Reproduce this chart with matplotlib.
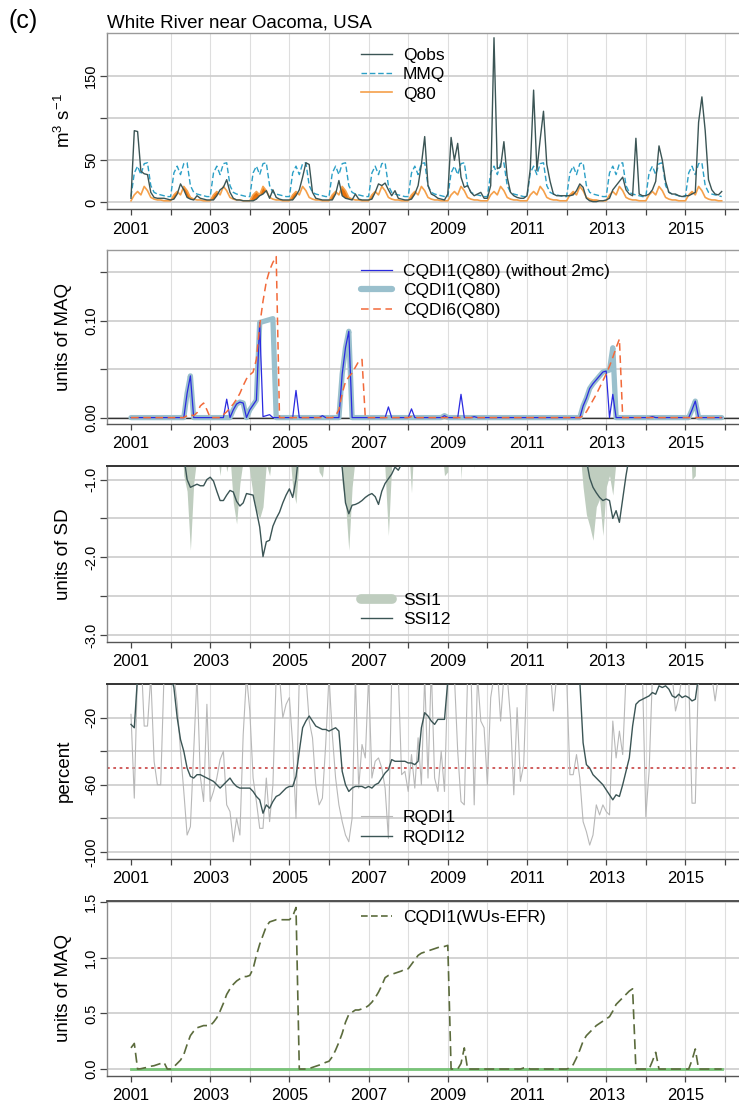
import numpy as np
import matplotlib
matplotlib.use("Agg")
import matplotlib.pyplot as plt
from matplotlib.lines import Line2D
from matplotlib.ticker import FixedLocator, FixedFormatter

plt.rcParams['font.family'] = ['Liberation Sans', 'DejaVu Sans']
plt.rcParams['mathtext.fontset'] = 'custom'
plt.rcParams['mathtext.rm'] = 'Liberation Sans'
plt.rcParams['mathtext.default'] = 'regular'

# monthly series, Jan 2001 .. Dec 2015 (one row per year)
qobs = [
    5, 85, 84, 37, 34, 33, 12, 6, 5, 5, 5, 4,
    3, 4, 10, 22, 15, 6, 4, 3, 8, 5, 4, 3,
    3, 3, 8, 15, 18, 27, 12, 5, 3, 3, 2, 2,
    2, 2, 4, 8, 10, 14, 5, 15, 6, 4, 3, 3,
    3, 3, 8, 15, 30, 47, 45, 12, 5, 4, 3, 3,
    3, 3, 10, 26, 8, 5, 4, 3, 10, 4, 3, 3,
    3, 4, 12, 22, 20, 23, 15, 8, 14, 5, 4, 3,
    3, 4, 10, 20, 45, 78, 20, 10, 8, 5, 4, 3,
    10, 77, 50, 70, 30, 18, 20, 12, 8, 10, 12, 5,
    5, 20, 195, 40, 42, 72, 30, 12, 8, 6, 5, 5,
    8, 40, 133, 38, 75, 108, 45, 25, 10, 8, 8, 8,
    8, 8, 9, 14, 22, 18, 5, 2, 1, 1, 2, 2,
    3, 5, 15, 20, 25, 30, 15, 10, 8, 76, 10, 8,
    8, 10, 15, 25, 67, 50, 25, 12, 10, 10, 8, 7,
    8, 8, 10, 12, 95, 125, 85, 27, 15, 10, 9, 13,
]
# climatological monthly values (Jan..Dec), same every year
mmq_month = [7, 35, 43, 33, 46, 47, 20, 12, 10, 9, 8, 7]
q80_month = [2, 9, 13, 9, 19, 14, 6, 4, 3, 3, 2, 2]

cqdi1 = [
    0, 0, 0, 0, 0, 0, 0, 0, 0, 0, 0, 0,
    0, 0, 0, 0, 0, 0.025, 0.043, 0, 0, 0, 0, 0,
    0, 0, 0, 0, 0, 0, 0, 0.008, 0.014, 0.016, 0.015, 0,
    0.008, 0.013, 0.018, 0.098, 0.099, 0.100, 0.101, 0.102, 0, 0, 0, 0,
    0, 0, 0, 0, 0, 0, 0, 0, 0, 0, 0, 0,
    0, 0, 0, 0, 0.045, 0.072, 0.089, 0, 0, 0, 0, 0,
    0, 0, 0, 0, 0, 0, 0, 0, 0, 0, 0, 0,
    0, 0, 0, 0, 0, 0, 0, 0, 0, 0, 0, 0.002,
    0, 0, 0, 0, 0, 0, 0, 0, 0, 0, 0, 0,
    0, 0, 0, 0, 0, 0, 0, 0, 0, 0, 0, 0,
    0, 0, 0, 0, 0, 0, 0, 0, 0, 0, 0, 0,
    0, 0, 0, 0, 0, 0.012, 0.020, 0.030, 0.035, 0.039, 0.043, 0.047,
    0.048, 0.049, 0.072, 0, 0, 0, 0, 0, 0, 0, 0, 0,
    0, 0, 0, 0, 0, 0, 0, 0, 0, 0, 0, 0,
    0, 0, 0.008, 0.017, 0, 0, 0, 0, 0, 0, 0, 0,
]
cqdi1_no2mc = [
    0, 0, 0, 0, 0, 0, 0, 0, 0, 0, 0, 0,
    0, 0, 0, 0, 0, 0.025, 0.043, 0, 0, 0, 0, 0,
    0, 0, 0, 0, 0, 0.019, 0, 0.008, 0.014, 0.016, 0.015, 0,
    0.008, 0.013, 0.018, 0.098, 0.001, 0.002, 0.003, 0, 0, 0, 0, 0,
    0, 0, 0.028, 0, 0, 0, 0, 0, 0, 0, 0.002, 0,
    0, 0, 0, 0, 0.045, 0.072, 0.089, 0, 0, 0, 0, 0,
    0, 0, 0, 0, 0, 0, 0.011, 0, 0, 0, 0, 0,
    0, 0.009, 0, 0, 0, 0, 0, 0, 0, 0, 0, 0.002,
    0, 0, 0, 0, 0.024, 0, 0, 0, 0.001, 0, 0, 0,
    0, 0, 0, 0, 0, 0, 0, 0, 0, 0, 0, 0,
    0, 0, 0, 0, 0, 0, 0, 0, 0, 0, 0, 0,
    0, 0, 0, 0, 0, 0.012, 0.020, 0.030, 0.035, 0.039, 0.043, 0.047,
    0.048, 0, 0.024, 0, 0, 0, 0, 0, 0, 0, 0, 0,
    0, 0, 0.001, 0, 0, 0, 0, 0, 0, 0, 0, 0,
    0, 0, 0.008, 0.017, 0, 0, 0, 0, 0, 0, 0, 0,
]
cqdi6 = [
    0, 0, 0, 0, 0, 0, 0, 0, 0, 0, 0, 0,
    0, 0, 0, 0, 0, 0.002, 0.003, 0.002, 0.005, 0.012, 0.015, 0.008,
    0, 0, 0, 0, 0.003, 0.006, 0.010, 0.014, 0.019, 0.025, 0.033, 0.040,
    0.044, 0.047, 0.060, 0.095, 0.120, 0.140, 0.152, 0.160, 0.166, 0, 0, 0,
    0, 0, 0, 0, 0, 0, 0, 0, 0, 0, 0, 0,
    0, 0, 0.002, 0.008, 0.025, 0.037, 0.042, 0.046, 0.052, 0.058, 0.060, 0,
    0, 0, 0, 0, 0, 0, 0, 0, 0, 0, 0, 0,
    0, 0.001, 0, 0, 0, 0, 0, 0, 0, 0, 0, 0,
    0, 0, 0, 0, 0, 0, 0, 0, 0, 0, 0, 0,
    0, 0, 0, 0, 0, 0, 0, 0, 0, 0, 0, 0,
    0, 0, 0, 0, 0, 0, 0, 0, 0, 0, 0, 0,
    0, 0, 0, 0, 0, 0.002, 0.006, 0.012, 0.018, 0.024, 0.031, 0.038,
    0.045, 0.053, 0.062, 0.072, 0.081, 0, 0, 0, 0, 0, 0, 0,
    0, 0, 0, 0, 0, 0, 0, 0, 0, 0, 0, 0,
    0, 0, 0, 0, 0, 0, 0, 0, 0, 0, 0, 0,
]
ssi1 = [
    -0.2, 1.5, 1.5, 0.8, 0.7, 0.6, 0.2, -0.1, 0.0, 0.0, 0.1, 0.0,
    -0.3, -0.2, -0.4, -0.2, -0.95, -1.15, -1.91, -1.05, -0.7, -0.3, -0.3, -0.4,
    -0.5, -0.6, -0.6, -0.95, -0.5, -0.9, -0.7, -1.3, -1.57, -1.05, -0.75, -0.6,
    -0.9, -1.2, -1.4, -1.5, -1.35, -0.8, -0.95, -0.6, -0.4, -0.5, -0.5, -0.5,
    -0.6, -1.1, -1.31, -0.7, 0.1, 0.5, 0.4, 0.0, -0.3, -0.9, -0.97, -0.6,
    -0.5, -0.6, -0.3, 0.1, -1.05, -1.3, -1.91, -1.1, -0.7, -0.4, -0.5, -0.5,
    -0.4, -0.3, -0.1, 0.1, 0.0, -0.9, -1.72, -0.8, 0.0, -0.2, -0.3, -0.4,
    -0.5, -1.17, -0.3, 0.2, 0.6, 0.9, 0.2, -0.1, -0.2, -0.3, -0.5, -0.95,
    -0.9, 1.2, 0.8, 0.9, -1.0, -0.2, 0.1, 0.0, -0.87, -0.2, 0.3, -0.2,
    0.0, 0.5, 2.0, 0.8, 0.3, 0.9, 0.8, 0.4, 0.2, 0.0, 0.0, -0.1,
    0.6, 1.0, 1.8, 0.6, 1.1, 1.4, 1.2, 1.2, 0.6, 0.2, 0.3, 0.5,
    0.4, -0.5, -0.6, -0.3, -0.6, -1.1, -1.45, -1.6, -1.78, -1.35, -1.25, -1.72,
    -1.1, -0.95, -1.2, -0.75, -0.4, -0.3, -0.2, -0.2, 0.0, 1.5, 0.6, 0.4,
    0.3, 0.2, 0.1, 0.3, 0.8, 0.2, 0.0, 0.0, 0.3, 0.2, 0.2, 0.3,
    0.2, 0.0, -1.0, -0.95, 1.0, 1.4, 1.4, 0.8, 0.6, 0.4, 0.5, 1.0,
]
ssi12 = [
    -0.3, -0.2, 0.1, 0.3, 0.4, 0.4, 0.3, 0.2, 0.1, 0.0, -0.1, -0.2,
    -0.2, -0.3, -0.4, -0.5, -0.7, -1.0, -1.1, -1.08, -1.06, -1.08, -1.08, -1.0,
    -0.97, -1.02, -1.15, -1.27, -1.27, -1.2, -1.14, -1.16, -1.28, -1.34, -1.3, -1.18,
    -1.19, -1.2, -1.4, -1.61, -1.99, -1.8, -1.78, -1.6, -1.5, -1.42, -1.3, -1.2,
    -1.12, -1.23, -1.0, -0.6, -0.3, -0.1, 0.0, -0.1, -0.2, -0.3, -0.3, -0.4,
    -0.5, -0.5, -0.6, -0.7, -0.85, -1.3, -1.44, -1.33, -1.32, -1.3, -1.27, -1.23,
    -1.2, -1.18, -1.22, -1.32, -1.15, -1.05, -0.99, -0.93, -0.84, -0.88, -0.8, -0.78,
    -0.75, -0.7, -0.65, -0.5, -0.3, 0.0, 0.1, 0.1, 0.2, 0.2, 0.2, 0.3,
    0.5, 0.7, 0.8, 0.9, 0.9, 0.8, 0.8, 0.8, 0.8, 0.9, 0.9, 0.9,
    0.9, 1.0, 1.3, 1.3, 1.3, 1.3, 1.2, 1.2, 1.1, 1.1, 1.1, 1.1,
    1.2, 1.3, 1.5, 1.5, 1.6, 1.6, 1.5, 1.5, 1.4, 1.4, 1.4, 1.3,
    1.0, 0.8, 0.6, 0.4, 0.1, -0.3, -0.75, -0.98, -1.1, -1.17, -1.23, -1.27,
    -1.25, -1.27, -1.5, -1.4, -1.55, -1.25, -0.95, -0.7, -0.5, -0.2, -0.1, 0.0,
    0.0, 0.0, 0.1, 0.1, 0.3, 0.2, 0.2, 0.2, 0.2, 0.2, 0.2, 0.2,
    0.2, 0.2, 0.2, 0.2, 0.4, 0.6, 0.6, 0.6, 0.6, 0.6, 0.6, 0.6,
]
rqdi1 = [
    -18, -68, 10, 20, -25, -25, 5, -46, -60, -60, 5, 10,
    20, 5, -12, -40, -64, -90, -85, -40, 5, -55, -70, -12,
    -70, -64, -56, -45, -40, -72, -76, -94, -80, -90, -30, 5,
    -16, -56, -70, -86, -86, -56, -82, -60, 5, 5, -20, -12,
    -8, -36, -80, 5, 10, 5, -22, -32, -60, -72, -68, -36,
    5, -30, -56, -72, -82, -90, -94, -80, 5, -62, -36, -44,
    5, -56, -46, -44, -50, -62, -92, 5, 10, 5, -54, -52,
    -64, -42, -62, -32, -60, 5, -56, 10, -56, -64, -40, -64,
    5, 10, 5, -40, -70, -72, 5, 10, -72, 5, -22, -26,
    -60, -8, 5, 10, -22, 5, 5, -20, -66, -14, -58, -48,
    10, 5, 10, 20, 15, 10, 5, 10, -16, 5, 10, 5,
    5, -54, -54, -42, -56, -82, -88, -96, -90, -72, -78, -72,
    -76, -78, -22, -44, -28, -42, 5, 5, 10, 5, 5, 5,
    -79, -52, 5, 10, 5, 5, 5, 10, 5, -16, -8, 5,
    5, 5, -71, -71, 10, 15, 10, 5, 5, -10, 5, 5,
]
rqdi12 = [
    -24, -26, 5, 15, 25, 30, 35, 30, 25, 20, 15, 10,
    5, -2, -20, -33, -40, -50, -55, -56, -54, -54, -55, -56,
    -57, -58, -60, -62, -60, -58, -56, -59, -61, -62, -62, -62,
    -62, -64, -67, -69, -77, -72, -74, -70, -67, -66, -64, -62,
    -61, -61, -55, -40, -26, -22, -19, -22, -25, -26, -27, -27,
    -28, -27, -26, -28, -52, -60, -64, -62, -61, -61, -61, -62,
    -61, -62, -60, -59, -56, -53, -51, -45, -46, -46, -46, -46,
    -47, -47, -48, -46, -26, -17, -19, -22, -24, -21, -21, -21,
    2, 10, 15, 20, 25, 25, 25, 25, 20, 20, 20, 20,
    30, 35, 45, 45, 50, 55, 55, 55, 50, 50, 50, 50,
    50, 55, 60, 60, 60, 60, 55, 55, 50, 45, 40, 35,
    20, 15, 10, 5, 2, -35, -48, -50, -54, -56, -58, -60,
    -63, -66, -69, -66, -67, -60, -52, -44, -25, -12, -10, -9,
    -8, -7, -5, -6, -1, -2, -1, -3, -7, -8, -6, -8,
    -7, -8, -10, -9, 5, 10, 15, 15, 15, 15, 15, 15,
]
cqdi1_wus = [
    0.19, 0.23, 0, 0.003, 0.01, 0.015, 0.025, 0.03, 0.04, 0.05, 0.06, 0,
    0, 0.02, 0.05, 0.08, 0.13, 0.22, 0.30, 0.34, 0.37, 0.38, 0.39, 0.39,
    0.39, 0.42, 0.46, 0.52, 0.59, 0.67, 0.72, 0.76, 0.79, 0.81, 0.83, 0.83,
    0.84, 0.90, 1.02, 1.12, 1.20, 1.28, 1.32, 1.33, 1.34, 1.34, 1.34, 1.34,
    1.34, 1.37, 1.45, 0, 0, 0, 0.005, 0.015, 0.025, 0.035, 0.045, 0.06,
    0.07, 0.11, 0.17, 0.24, 0.32, 0.42, 0.49, 0.51, 0.53, 0.53, 0.54, 0.55,
    0.57, 0.60, 0.64, 0.69, 0.75, 0.82, 0.84, 0.85, 0.86, 0.87, 0.88, 0.90,
    0.90, 0.94, 0.98, 1.02, 1.04, 1.05, 1.06, 1.07, 1.08, 1.09, 1.10, 1.10,
    1.11, 0, 0, 0, 0.05, 0.19, 0, 0, 0, 0, 0, 0,
    0, 0, 0, 0, 0, 0, 0, 0, 0, 0, 0, 0.01,
    0.01, 0, 0, 0, 0, 0, 0, 0, 0, 0, 0, 0,
    0, 0.01, 0.04, 0.10, 0.17, 0.25, 0.30, 0.33, 0.36, 0.39, 0.41, 0.43,
    0.45, 0.47, 0.52, 0.58, 0.61, 0.64, 0.67, 0.70, 0.72, 0, 0, 0,
    0, 0, 0.07, 0.15, 0, 0, 0, 0, 0, 0, 0, 0,
    0, 0, 0.08, 0.18, 0, 0, 0, 0, 0, 0, 0, 0,
]
cqdi1_wus_base = [0.0] * 180

n_years = 15
t = 2001 + np.arange(12 * n_years) / 12.0
qobs = np.array(qobs, dtype=float)
mmq = np.tile(mmq_month, n_years)
q80 = np.tile(q80_month, n_years)

W, H = 739, 1106
fig = plt.figure(figsize=(W / 100, H / 100), dpi=100)

x0, x1 = 2000.4, 2016.5
px_per_year = 39.6
ax_left = 131 - (2001 - x0) * px_per_year
ax_width = (x1 - x0) * px_per_year
# (top, bottom) of each panel in pixels
panel_px = [(33, 209), (249.5, 424), (466, 641.5), (683.5, 858.5), (901, 1075.5)]

axes = []
for top, bot in panel_px:
    ax = fig.add_axes([ax_left / W, 1 - bot / H, ax_width / W, (bot - top) / H])
    ax.set_xlim(x0, x1)
    for yr in range(2002, 2017):
        ax.axvline(yr, color='#dedede', lw=0.8, zorder=0)
    ax.xaxis.set_major_locator(FixedLocator(range(2001, 2017)))
    ax.xaxis.set_major_formatter(FixedFormatter(
        [str(y) if y % 2 == 1 else '' for y in range(2001, 2017)]))
    ax.tick_params(axis='x', direction='out', length=4.5, width=0.9, color='#444',
                   labelsize=12, pad=4.5)
    ax.tick_params(axis='y', direction='out', length=5, width=0.9, color='#444',
                   labelsize=10.5, pad=1.5, labelrotation=90)
    ax.spines['top'].set_color('#9a9a9a')
    ax.spines['right'].set_visible(False)
    ax.spines['left'].set_color('#8a8a8a')
    ax.spines['bottom'].set_color('#555555')
    for s in ax.spines.values():
        s.set_linewidth(1.0)
    axes.append(ax)


def yticks(ax, vals, shown, fmt):
    ax.yaxis.set_major_locator(FixedLocator(vals))
    ax.yaxis.set_major_formatter(FixedFormatter(
        [fmt.format(v) if v in shown else '' for v in vals]))
    for v in vals:
        ax.axhline(v, color='#cccccc', lw=1.2, zorder=0)
    for lab in ax.get_yticklabels():
        lab.set_va('center')


def legend(ax, handles, labels, xf, yf):
    ax.legend(handles, labels, loc='upper left', bbox_to_anchor=(xf, yf),
              frameon=False, borderpad=0, borderaxespad=0, handlelength=1.78,
              handletextpad=0.63, labelspacing=0.25, fontsize=12.5)


leg_x = (361 - ax_left) / ax_width

# panel 1: discharge
ax = axes[0]
ax.set_ylim(-7.7, 200.6)
yticks(ax, [0, 50, 100, 150], [0, 50, 150], '{:g}')
ax.fill_between(t, q80, qobs, where=qobs < q80, interpolate=True,
                color='#e8720c', lw=0, zorder=2)
ax.plot(t, mmq, color='#2b9fc6', lw=1.0, dashes=(4, 2), zorder=3)
ax.plot(t, q80, color='#f5a04a', lw=1.2, zorder=3)
ax.plot(t, qobs, color='#3b5555', lw=1.0, zorder=4)
legend(ax, [Line2D([], [], color='#3b5555', lw=1.0),
            Line2D([], [], color='#2b9fc6', lw=1.0, dashes=(4, 2)),
            Line2D([], [], color='#f5a04a', lw=1.2)],
       ['Qobs', 'MMQ', 'Q80'], leg_x, 0.918)

# panel 2: CQDI with Q80 threshold
ax = axes[1]
ax.set_ylim(-0.0066, 0.1733)
yticks(ax, [0, 0.05, 0.10, 0.15], [0, 0.10], '{:.2f}')
ax.axhline(0, color='#333333', lw=1.0, zorder=1)
ax.plot(t, cqdi1, color='#9ac0cd', lw=3.8, solid_capstyle='round', zorder=2)
ax.plot(t, cqdi1_no2mc, color='#2a2ae0', lw=0.9, zorder=3)
ax.plot(t, cqdi6, color='#f26a3a', lw=1.1, dashes=(5, 3), zorder=4)
legend(ax, [Line2D([], [], color='#2a2ae0', lw=0.9),
            Line2D([], [], color='#9ac0cd', lw=4.5, solid_capstyle='round'),
            Line2D([], [], color='#f26a3a', lw=1.1, dashes=(5, 3))],
       ['CQDI1(Q80) (without 2mc)', 'CQDI1(Q80)', 'CQDI6(Q80)'], leg_x, 0.920)

# panel 3: SSI
ax = axes[2]
ax.set_ylim(-3.082, -0.826)
yticks(ax, [-3.0, -2.5, -2.0, -1.5, -1.0], [-3.0, -2.0, -1.0], '{:.1f}')
ax.fill_between(t, ssi1, 0, color='#bfcdbf', lw=0, zorder=2)
ax.plot(t, ssi12, color='#3b5555', lw=1.0, zorder=3)
ax.spines['top'].set_color('#333333')
ax.spines['top'].set_linewidth(1.4)
legend(ax, [Line2D([], [], color='#bfcdbf', lw=7, solid_capstyle='round'),
            Line2D([], [], color='#3b5555', lw=1.0)],
       ['SSI1', 'SSI12'], leg_x, 0.278)

# panel 4: RQDI
ax = axes[3]
ax.set_ylim(-104, 0.4)
yticks(ax, [-100, -80, -60, -40, -20], [-100, -60, -20], '{:g}')
ax.axhline(-50, color='#cd5050', lw=1.3, dashes=(1.5, 2), zorder=2)
ax.plot(t, rqdi1, color='#b8b8b8', lw=0.8, zorder=3)
ax.plot(t, rqdi12, color='#3b5555', lw=1.0, zorder=4)
ax.spines['top'].set_color('#333333')
ax.spines['top'].set_linewidth(1.4)
legend(ax, [Line2D([], [], color='#b8b8b8', lw=0.8),
            Line2D([], [], color='#3b5555', lw=1.0)],
       ['RQDI1', 'RQDI12'], leg_x, 0.277)

# panel 5: CQDI with WUs-EFR threshold
ax = axes[4]
ax.set_ylim(-0.058, 1.508)
yticks(ax, [0, 0.5, 1.0, 1.5], [0, 0.5, 1.0, 1.5], '{:.1f}')
ax.plot(t, cqdi1_wus_base, color='#78c478', lw=2.0, zorder=2)
ax.plot(t, cqdi1_wus, color='#5b6b3c', lw=1.2, dashes=(6, 3), zorder=3)
ax.spines['top'].set_color('#444444')
ax.spines['top'].set_linewidth(1.3)
legend(ax, [Line2D([], [], color='#5b6b3c', lw=1.2, dashes=(4, 2))],
       ['CQDI1(WUs-EFR)'], leg_x, 0.948)

# y axis titles
ylabels = ['m$^{3}$ s$^{-1}$', 'units of MAQ', 'units of SD', 'percent', 'units of MAQ']
for (top, bot), lab in zip(panel_px, ylabels):
    fig.text(64 / W, 1 - (top + bot) / 2 / H, lab, rotation=90, ha='center',
             va='center', fontsize=13.5)

fig.text(9 / W, 1 - 21 / H, '(c)', fontsize=18, va='center', ha='left')
fig.text(ax_left / W, 1 - 23.5 / H, 'White River near Oacoma, USA', fontsize=13.5,
         va='center', ha='left')

fig.savefig('out.png', dpi=100)
